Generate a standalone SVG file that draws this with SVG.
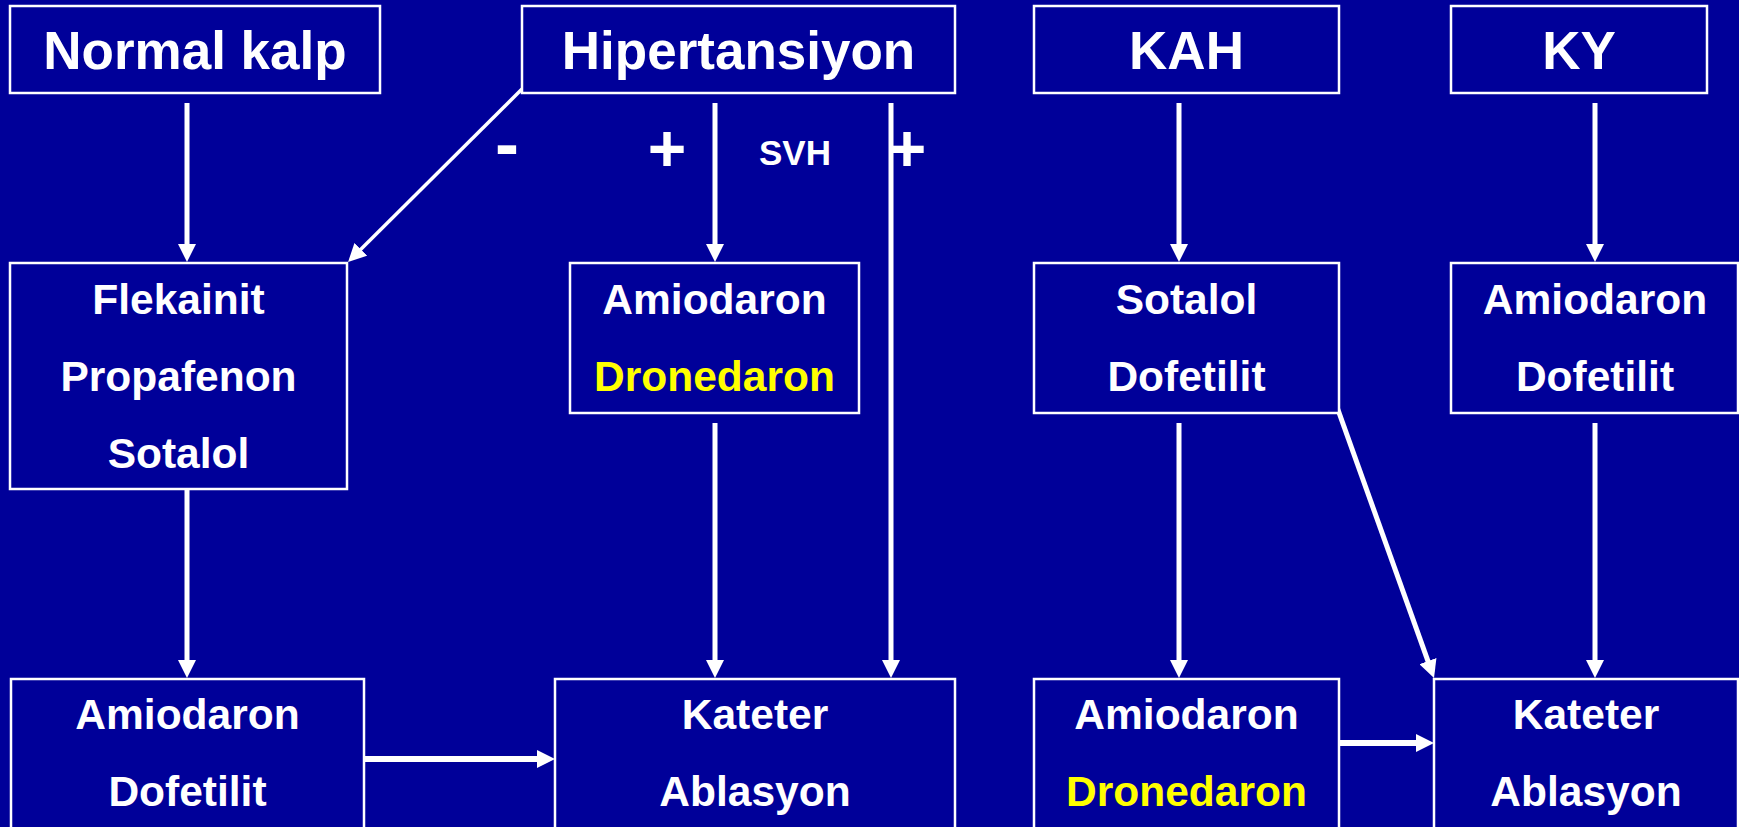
<svg xmlns="http://www.w3.org/2000/svg" width="1739" height="827" viewBox="0 0 1739 827">
<style>
.box{fill:#000099;stroke:#ffffff;stroke-width:2.5}
.t{font-family:"Liberation Sans",Arial,sans-serif;font-weight:bold;fill:#ffffff;text-anchor:middle}
.title{font-size:53px}
.drug{font-size:42.5px}
.y{fill:#ffff00}
.c{stroke:#ffffff;fill:none}
</style>
<defs>
<marker id="ah" markerUnits="userSpaceOnUse" markerWidth="18" markerHeight="18" refX="12" refY="9" orient="auto">
<path d="M0,0 L18,9 L0,18 z" fill="#ffffff"/>
</marker>
</defs>
<rect x="0" y="0" width="1739" height="827" fill="#000099"/>

<g id="connectors">
<line class="c" stroke-width="5" x1="187" y1="103" x2="187" y2="256" marker-end="url(#ah)"/>
<line class="c" stroke-width="3.5" x1="522" y1="89" x2="352.3" y2="257.8" marker-end="url(#ah)"/>
<line class="c" stroke-width="5" x1="715" y1="103" x2="715" y2="256" marker-end="url(#ah)"/>
<line class="c" stroke-width="5" x1="891" y1="103" x2="891" y2="672" marker-end="url(#ah)"/>
<line class="c" stroke-width="5" x1="1179" y1="103" x2="1179" y2="256" marker-end="url(#ah)"/>
<line class="c" stroke-width="5" x1="1595" y1="103" x2="1595" y2="256" marker-end="url(#ah)"/>
<line class="c" stroke-width="5" x1="187" y1="489" x2="187" y2="672" marker-end="url(#ah)"/>
<line class="c" stroke-width="5" x1="715" y1="423" x2="715" y2="672" marker-end="url(#ah)"/>
<line class="c" stroke-width="5" x1="1179" y1="423" x2="1179" y2="672" marker-end="url(#ah)"/>
<line class="c" stroke-width="5" x1="1595" y1="423" x2="1595" y2="672" marker-end="url(#ah)"/>
<line class="c" stroke-width="5" x1="1337" y1="407" x2="1432" y2="672.4" marker-end="url(#ah)"/>
<line class="c" stroke-width="6" x1="364" y1="759" x2="549" y2="759" marker-end="url(#ah)"/>
<line class="c" stroke-width="6" x1="1339" y1="743" x2="1428" y2="743" marker-end="url(#ah)"/>
<text class="t" x="507" y="168" font-size="72">-</text>
<text class="t" x="667" y="171" font-size="66">+</text>
<text class="t" x="795" y="165" font-size="35">SVH</text>
<text class="t" x="907" y="171" font-size="66">+</text>
</g>

<g id="normal-kalp">
<rect class="box" x="10" y="6" width="370" height="87"/>
<text class="t title" x="195" y="69">Normal kalp</text>
</g>
<g id="hipertansiyon">
<rect class="box" x="522" y="6" width="433" height="87"/>
<text class="t title" x="738.5" y="69">Hipertansiyon</text>
</g>
<g id="kah">
<rect class="box" x="1034" y="6" width="305" height="87"/>
<text class="t title" x="1186.5" y="69">KAH</text>
</g>
<g id="ky">
<rect class="box" x="1451" y="6" width="256" height="87"/>
<text class="t title" x="1579" y="69">KY</text>
</g>

<g id="flekainit">
<rect class="box" x="10" y="263" width="337" height="226"/>
<text class="t drug" x="178.5" y="314">Flekainit</text>
<text class="t drug" x="178.5" y="391">Propafenon</text>
<text class="t drug" x="178.5" y="468">Sotalol</text>
</g>
<g id="amiodaron-dronedaron-1">
<rect class="box" x="570" y="263" width="289" height="150"/>
<text class="t drug" x="714.5" y="314">Amiodaron</text>
<text class="t drug y" x="714.5" y="391">Dronedaron</text>
</g>
<g id="sotalol-dofetilit">
<rect class="box" x="1034" y="263" width="305" height="150"/>
<text class="t drug" x="1186.5" y="314">Sotalol</text>
<text class="t drug" x="1186.5" y="391">Dofetilit</text>
</g>
<g id="amiodaron-dofetilit-ky">
<rect class="box" x="1451" y="263" width="287" height="150"/>
<text class="t drug" x="1595" y="314">Amiodaron</text>
<text class="t drug" x="1595" y="391">Dofetilit</text>
</g>

<g id="amiodaron-dofetilit">
<rect class="box" x="11" y="679" width="353" height="170"/>
<text class="t drug" x="187.5" y="729">Amiodaron</text>
<text class="t drug" x="187.5" y="806">Dofetilit</text>
</g>
<g id="kateter-ablasyon-1">
<rect class="box" x="555" y="679" width="400" height="170"/>
<text class="t drug" x="755" y="729">Kateter</text>
<text class="t drug" x="755" y="806">Ablasyon</text>
</g>
<g id="amiodaron-dronedaron-2">
<rect class="box" x="1034" y="679" width="305" height="170"/>
<text class="t drug" x="1186.5" y="729">Amiodaron</text>
<text class="t drug y" x="1186.5" y="806">Dronedaron</text>
</g>
<g id="kateter-ablasyon-2">
<rect class="box" x="1434" y="679" width="304" height="170"/>
<text class="t drug" x="1586" y="729">Kateter</text>
<text class="t drug" x="1586" y="806">Ablasyon</text>
</g>
</svg>
